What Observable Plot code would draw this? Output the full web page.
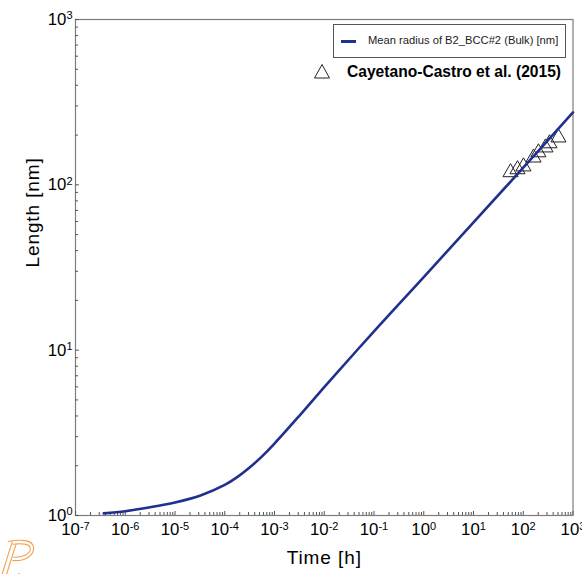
<!DOCTYPE html>
<html>
<head>
<meta charset="utf-8">
<script src="https://cdn.jsdelivr.net/npm/d3@7"></script>
<script src="https://cdn.jsdelivr.net/npm/@observablehq/plot@0.6"></script>
<style>
  html, body { margin: 0; padding: 0; background: #fff; }
  #chart { position: relative; width: 582px; height: 574px; font-family: "Liberation Sans", Arial, sans-serif; overflow: hidden; }
  #chart svg.plot { position: absolute; left: 0; top: 0; }
  .legend-box { position: absolute; left: 333px; top: 24px; width: 231px; height: 32px; border: 1px solid #555; background: #fff; box-sizing: content-box; }
  .legend-box .swatch { position: absolute; left: 7px; top: 15px; width: 15px; height: 3px; background: #20308f; }
  .legend-box .lbl { position: absolute; left: 34px; top: 9px; font-size: 11.2px; color: #222; white-space: nowrap; }
  .exp-legend { position: absolute; left: 314px; top: 63px; white-space: nowrap; }
  .exp-legend svg { position: absolute; left: 0; top: 0; }
  .exp-legend .lbl { position: absolute; left: 33px; top: 0px; font-size: 15.6px; font-weight: bold; color: #000; }
  .logo { position: absolute; left: 0; top: 528px; }
</style>
</head>
<body>
<div id="chart"></div>
<script>
// Simulated mean precipitate radius (B2_BCC#2, bulk) versus ageing time
const timeH    = [3.7e-7, 1e-6,  3.16e-6, 1e-5, 3.16e-5, 1e-4,  1.78e-4, 3.16e-4, 5.62e-4, 1e-3,  3.16e-3, 1e-2, 1e-1, 1,    10,   100, 1000];
const radiusNm = [1.03,   1.062, 1.122,   1.20, 1.318,   1.531, 1.706,   1.95,    2.28,    2.723, 4.009,   5.97, 13.0, 27.7, 59.2, 127, 274];

// Measured radii (Cayetano-Castro et al., 2015)
const expTimeH    = [55.5, 76.6, 101, 161, 202, 280, 337, 511];
const expRadiusNm = [119,  124,  129, 146, 157, 168, 178, 193];

// Axis decades and labels
const xDecades = [-7, -6, -5, -4, -3, -2, -1, 0, 1, 2, 3];
const yDecades = [0, 1, 2, 3];
const seriesLabel = "Mean radius of B2_BCC#2 (Bulk) [nm]";
const expLabel = "Cayetano-Castro et al. (2015)";
const xTitle = "Time [h]";
const yTitle = "Length [nm]";

const W = 582, H = 574;
const mL = 75, mR = 9.5, mT = 19, mB = 59;
const plotW = W - mL - mR, plotH = H - mT - mB;
const lineColor = "#20308f";
const axisColor = "#7d7d7d";

const simulated = timeH.map((t, i) => ({t, r: radiusNm[i]}));
const measured = expTimeH.map((t, i) => ({t, r: expRadiusNm[i]}));

const xMajor = xDecades.map(e => Math.pow(10, e));
const yMajor = yDecades.map(e => Math.pow(10, e));
const minorOf = decs => decs.slice(0, -1).flatMap(e => [2,3,4,5,6,7,8,9].map(k => k * Math.pow(10, e)));
const xMinor = minorOf(xDecades);
const yMinor = minorOf(yDecades);
const expFmt = d => "10^" + Math.round(Math.log10(d));

const plot = Plot.plot({
  width: W,
  height: H,
  marginLeft: mL, marginRight: mR, marginTop: mT, marginBottom: mB,
  style: {fontFamily: "'Liberation Sans', Arial, sans-serif", background: "#fff", overflow: "visible"},
  x: {type: "log", domain: [1e-7, 1e3]},
  y: {type: "log", domain: [1, 1e3]},
  marks: [
    Plot.frame({stroke: axisColor, strokeWidth: 1.2}),
    // inward tick marks
    Plot.ruleX(xMinor, {x: d => d, insetTop: plotH - 3, stroke: "#555"}),
    Plot.ruleX(xMajor, {x: d => d, insetTop: plotH - 4, stroke: "#555"}),
    Plot.ruleY(yMinor, {y: d => d, insetRight: plotW - 3, stroke: "#555"}),
    Plot.ruleY(yMajor, {y: d => d, insetRight: plotW - 4, stroke: "#555"}),
    Plot.axisX({ticks: xMajor, tickFormat: expFmt, tickSize: 0, tickPadding: 8, fontSize: 16.8, label: null}),
    Plot.axisY({ticks: yMajor, tickFormat: expFmt, tickSize: 0, tickPadding: 3, fontSize: 16.8, label: null}),
    Plot.text([xTitle], {frameAnchor: "bottom", dy: 48, text: d => d, fontSize: 19, fill: "#000"}),
    Plot.text([yTitle], {frameAnchor: "left", dx: -43, rotate: -90, text: d => d, fontSize: 19, fill: "#000"}),
    Plot.dot(measured, {x: "t", y: "r", symbol: "triangle", r: 5.6, stroke: "#222", fill: "none", strokeWidth: 1}),
    Plot.line(simulated, {x: "t", y: "r", stroke: lineColor, strokeWidth: 2.6, curve: "catmull-rom"})
  ]
});
plot.classList.add("plot");

// render "10^n" tick labels with a raised exponent
d3.select(plot).selectAll("text").each(function () {
  const m = /^10\^(-?\d+)$/.exec(this.textContent);
  if (!m) return;
  this.textContent = "10";
  const sup = document.createElementNS("http://www.w3.org/2000/svg", "tspan");
  sup.setAttribute("dy", "-5.5");
  sup.setAttribute("font-size", "11");
  sup.textContent = m[1];
  this.appendChild(sup);
  this.setAttribute("fill", "#000");
});
// axis titles spaced a little wider
d3.select(plot).selectAll("text").filter(function () { return this.textContent === xTitle || this.textContent === yTitle; })
  .attr("letter-spacing", "0.9px");

const chart = document.getElementById("chart");
chart.appendChild(plot);

// series legend
const box = document.createElement("div");
box.className = "legend-box";
box.innerHTML = `<div class="swatch"></div><div class="lbl"></div>`;
box.querySelector(".lbl").textContent = seriesLabel;
chart.appendChild(box);

// experimental legend
const exp = document.createElement("div");
exp.className = "exp-legend";
exp.innerHTML = `<svg width="20" height="20"><path d="M8,1.5 L15.5,15 L0.5,15 Z" fill="none" stroke="#222" stroke-width="1"/></svg><div class="lbl"></div>`;
exp.querySelector(".lbl").textContent = expLabel;
chart.appendChild(exp);

// corner logo
const logo = document.createElementNS("http://www.w3.org/2000/svg", "svg");
logo.setAttribute("class", "logo");
logo.setAttribute("width", "46");
logo.setAttribute("height", "46");
logo.innerHTML = `
  <g transform="scale(1.12)">
    <g fill="none" stroke="#f2a150" stroke-width="1">
      <path d="M1,44 L11,12"/>
      <path d="M5,44 L14.5,14"/>
      <path d="M7,12 C18,10 30,10 30,18 C30,25 22,30 11,29"/>
      <path d="M11,14.5 C19,13.5 27,14 27,18.5 C27,23.5 20,26.5 12,26"/>
    </g>
    <circle cx="17" cy="41" r="0.9" fill="#f2a150"/>
  </g>`;
chart.appendChild(logo);
</script>
</body>
</html>
